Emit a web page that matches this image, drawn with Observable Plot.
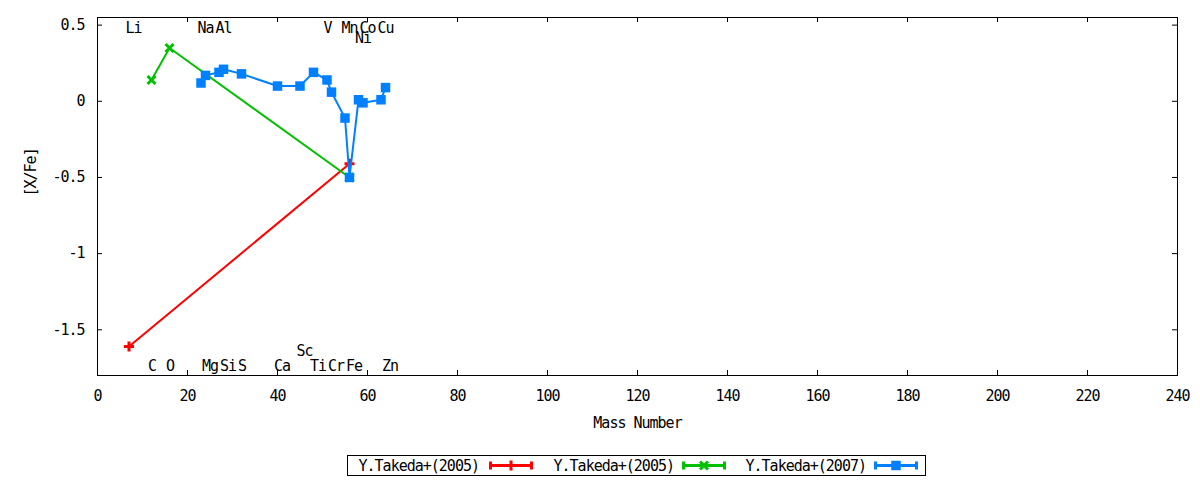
<!DOCTYPE html>
<html>
<head>
<meta charset="utf-8">
<script src="https://cdn.jsdelivr.net/npm/d3@7"></script>
<script src="https://cdn.jsdelivr.net/npm/@observablehq/plot@0.6"></script>
<style>
  html, body { margin: 0; padding: 0; background: #fff; }
  #wrap { position: relative; width: 1200px; height: 480px; font-family: "DejaVu Sans Mono", monospace; }
  #legend { position: absolute; left: 347px; top: 455px; width: 579px; height: 21px; }
</style>
</head>
<body>
<div id="wrap"><div id="chart"></div><div id="legend"></div></div>
<script>
// ---- data ----
const seriesNames = ["Y.Takeda+(2005)", "Y.Takeda+(2005)", "Y.Takeda+(2007)"];
const seriesColors = ["#ff0000", "#00c000", "#0080ff"];

const redMass = [7, 56];
const redValue = [-1.61, -0.41];

const greenMass = [12, 16, 56];
const greenValue = [0.14, 0.35, -0.5];

const blueMass = [23, 24, 27, 28, 32, 40, 45, 48, 51, 52, 55, 56, 58, 59, 63, 64];
const blueValue = [0.12, 0.17, 0.19, 0.21, 0.18, 0.10, 0.10, 0.19, 0.14, 0.06, -0.11, -0.50, 0.01, -0.01, 0.01, 0.09];

const elementNames = ["Li", "Na", "Al", "V", "Mn", "Co", "Cu", "Ni",
                      "C", "O", "Mg", "Si", "S", "Ca", "Ti", "Cr", "Fe", "Zn", "Sc"];
const elementMass  = [7, 23, 27, 51, 55, 59, 63, 58,
                      12, 16, 24, 28, 32, 40, 48, 52, 56, 64, 45];
const elementRow   = ["top", "top", "top", "top", "top", "top", "top", "top2",
                      "bottom", "bottom", "bottom", "bottom", "bottom", "bottom", "bottom", "bottom", "bottom", "bottom", "bottom2"];

const xTicks = [0, 20, 40, 60, 80, 100, 120, 140, 160, 180, 200, 220, 240];
const xTickLabels = ["0", "20", "40", "60", "80", "100", "120", "140", "160", "180", "200", "220", "240"];
const yTicks = [-1.5, -1, -0.5, 0, 0.5];
const yTickLabels = ["-1.5", "-1", "-0.5", "0", "0.5"];

// ---- build tables ----
const toRows = (ms, vs) => ms.map((m, i) => ({mass: m, value: vs[i]}));
const red = toRows(redMass, redValue);
const green = toRows(greenMass, greenValue);
const blue = toRows(blueMass, blueValue);
const rowY = {top: 0.48, top2: 0.414, bottom: -1.737, bottom2: -1.64};
const labels = elementNames.map((n, i) => ({name: n, mass: elementMass[i], y: rowY[elementRow[i]]}));

// ---- symbols ----
const plusSym = {draw(c) { c.moveTo(-5, 0); c.lineTo(5, 0); c.moveTo(0, -5); c.lineTo(0, 5); }};
const timesSym = {draw(c) { c.moveTo(-4, -4); c.lineTo(4, 4); c.moveTo(-4, 4); c.lineTo(4, -4); }};
const squareSym = {draw(c) { c.rect(-4.75, -4.75, 9.5, 9.5); }};

const W = 1200, H = 445, ML = 97, MR = 23, MT = 17, MB = 70;
const plotW = W - ML - MR, plotH = H - MT - MB, tick = 5;
const FONT = "'DejaVu Sans Mono', monospace";

const chart = Plot.plot({
  width: W, height: H,
  marginLeft: ML, marginRight: MR, marginTop: MT, marginBottom: MB,
  x: {domain: [0, 240]},
  y: {domain: [-1.8, 0.55]},
  style: {fontFamily: FONT, fontSize: "15px", background: "#fff", color: "#000", letterSpacing: "-1px"},
  marks: [
    Plot.axisX(xTicks, {tickSize: 0, tickPadding: 15, label: null, tickFormat: d => xTickLabels[xTicks.indexOf(d)]}),
    Plot.axisY(yTicks, {tickSize: 0, tickPadding: 13, label: null, tickFormat: d => yTickLabels[yTicks.indexOf(d)]}),
    Plot.ruleX(xTicks, {insetTop: plotH - tick, stroke: "#000"}),
    Plot.ruleX(xTicks, {insetBottom: plotH - tick, stroke: "#000"}),
    Plot.ruleY(yTicks, {insetRight: plotW - tick, stroke: "#000"}),
    Plot.ruleY(yTicks, {insetLeft: plotW - tick, stroke: "#000"}),
    Plot.frame({stroke: "#000"}),
    Plot.text(["[X/Fe]"], {frameAnchor: "left", dx: -66, rotate: -90, fill: "#000"}),
    Plot.text(["Mass Number"], {frameAnchor: "bottom", dy: 52, fill: "#000"}),
    Plot.text(labels, {x: "mass", y: "y", text: "name", textAnchor: "start", dx: -3.5, fill: "#000"}),
    Plot.line(red, {x: "mass", y: "value", stroke: seriesColors[0], strokeWidth: 2}),
    Plot.dot(red, {x: "mass", y: "value", symbol: plusSym, fill: "none", stroke: seriesColors[0], strokeWidth: 3}),
    Plot.line(green, {x: "mass", y: "value", stroke: seriesColors[1], strokeWidth: 2}),
    Plot.dot(green, {x: "mass", y: "value", symbol: timesSym, fill: "none", stroke: seriesColors[1], strokeWidth: 3}),
    Plot.line(blue, {x: "mass", y: "value", stroke: seriesColors[2], strokeWidth: 2}),
    Plot.dot(blue, {x: "mass", y: "value", symbol: squareSym, fill: seriesColors[2], stroke: "none"})
  ]
});
document.getElementById("chart").appendChild(chart);

// ---- legend ----
const legendSyms = [plusSym, timesSym, squareSym];
const textEnds = [132, 327, 519];
const sampleStarts = [142, 335, 527];
const sampleLen = 44;
const lg = d3.select("#legend").append("svg").attr("width", 579).attr("height", 21)
  .style("font-family", FONT).style("font-size", "15px").style("letter-spacing", "-1px");
lg.append("rect").attr("x", 0.5).attr("y", 0.5).attr("width", 578).attr("height", 20).attr("fill", "none").attr("stroke", "#000");
seriesNames.forEach((name, i) => {
  lg.append("text").attr("x", textEnds[i]).attr("y", 15.5).attr("text-anchor", "end").text(name);
  const x0 = sampleStarts[i], x1 = x0 + sampleLen, ym = 10.5, col = seriesColors[i];
  lg.append("line").attr("x1", x0).attr("x2", x1).attr("y1", ym).attr("y2", ym).attr("stroke", col).attr("stroke-width", 3);
  lg.append("line").attr("x1", x0 + 1.5).attr("x2", x0 + 1.5).attr("y1", ym - 4).attr("y2", ym + 4).attr("stroke", col).attr("stroke-width", 3);
  lg.append("line").attr("x1", x1 - 1.5).attr("x2", x1 - 1.5).attr("y1", ym - 4).attr("y2", ym + 4).attr("stroke", col).attr("stroke-width", 3);
  const p = d3.path(); legendSyms[i].draw(p);
  lg.append("path").attr("d", p.toString()).attr("transform", `translate(${(x0 + x1) / 2},${ym})`)
    .attr("fill", i === 2 ? col : "none").attr("stroke", i === 2 ? "none" : col).attr("stroke-width", 3);
});
</script>
</body>
</html>
